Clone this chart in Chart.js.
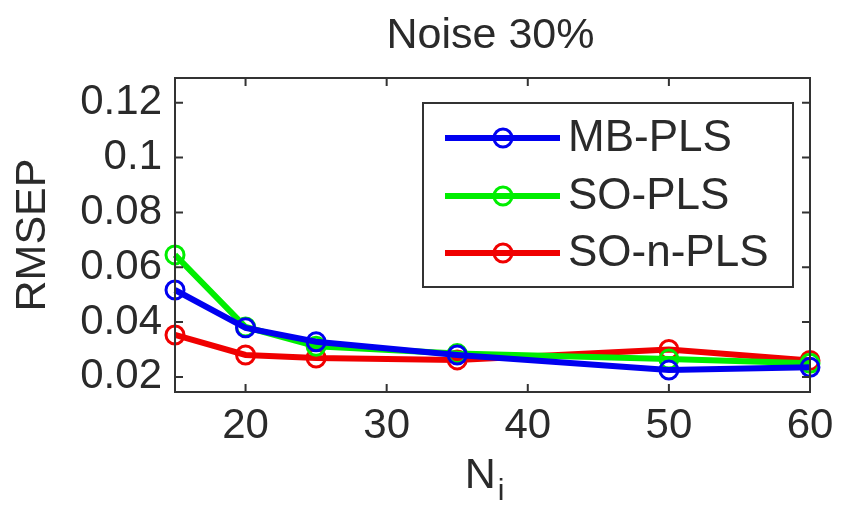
<!DOCTYPE html>
<html>
<head>
<meta charset="utf-8">
<script src="https://cdn.jsdelivr.net/npm/chart.js@4"></script>
<style>
  html, body { margin: 0; padding: 0; background: #ffffff; }
  #wrap { width: 846px; height: 522px; }
</style>
</head>
<body>
<div id="wrap"><canvas id="c" width="846" height="522"></canvas></div>
<script>
// Number of samples per block
const ni = [15, 20, 25, 35, 50, 60];
// RMSEP for each method
const mbPls   = [0.0517, 0.0379, 0.0328, 0.0280, 0.0225, 0.0235];
const soPls   = [0.0645, 0.0382, 0.0312, 0.0285, 0.0265, 0.0250];
const soNPls  = [0.0353, 0.0280, 0.0269, 0.0262, 0.0300, 0.0260];
const seriesNames = ['MB-PLS', 'SO-PLS', 'SO-n-PLS'];
const xTickValues = [20, 30, 40, 50, 60];
const yTickValues = [0.02, 0.04, 0.06, 0.08, 0.10, 0.12];
const yTickLabels = ['0.02', '0.04', '0.06', '0.08', '0.1', '0.12'];
const chartTitle = 'Noise 30%';

const FONT = '"Liberation Sans", Arial, Helvetica, sans-serif';
const TEXT = '#2a2a2a';
const AXIS = '#333333';

function series(values, label, color) {
  return {
    label: label,
    data: ni.map((x, i) => ({ x: x, y: values[i] })),
    borderColor: color,
    backgroundColor: 'rgba(255,255,255,0)',
    borderWidth: 6,
    pointStyle: 'circle',
    pointRadius: 9,
    pointBorderWidth: 3,
    pointBackgroundColor: 'rgba(255,255,255,0)',
    pointBorderColor: color,
    tension: 0,
    clip: false
  };
}

// Title, axes box with inward tick marks, x-axis label with subscript, framed legend
const framePlugin = {
  id: 'frame',
  afterDatasetsDraw(chart) {
    const ctx = chart.ctx;
    const a = chart.chartArea;
    const xs = chart.scales.x, ys = chart.scales.y;
    ctx.save();

    // title over the plot area
    ctx.fillStyle = TEXT;
    ctx.font = '43px ' + FONT;
    ctx.textAlign = 'center';
    ctx.textBaseline = 'middle';
    ctx.fillText(chartTitle, (a.left + a.right) / 2 - 2, 36);

    ctx.strokeStyle = AXIS;
    ctx.lineWidth = 2;
    ctx.strokeRect(a.left, a.top, a.right - a.left, a.bottom - a.top);
    const tl = 8;
    ctx.beginPath();
    xTickValues.forEach(v => {
      const px = xs.getPixelForValue(v);
      ctx.moveTo(px, a.bottom); ctx.lineTo(px, a.bottom - tl);
      ctx.moveTo(px, a.top); ctx.lineTo(px, a.top + tl);
    });
    yTickValues.forEach(v => {
      const py = ys.getPixelForValue(v);
      ctx.moveTo(a.left, py); ctx.lineTo(a.left + tl, py);
      ctx.moveTo(a.right, py); ctx.lineTo(a.right - tl, py);
    });
    ctx.stroke();

    // x-axis label N with subscript i
    ctx.fillStyle = TEXT;
    ctx.textBaseline = 'alphabetic';
    ctx.textAlign = 'left';
    ctx.font = '43px ' + FONT;
    const cx = (a.left + a.right) / 2 - 8;
    const wN = ctx.measureText('N').width;
    ctx.font = '30px ' + FONT;
    const wi = ctx.measureText('i').width;
    const x0 = cx - (wN + wi + 2) / 2;
    ctx.font = '43px ' + FONT;
    ctx.fillText('N', x0, 488);
    ctx.font = '30px ' + FONT;
    ctx.fillText('i', x0 + wN + 2, 500);

    // legend
    const lx = 423, ly = 103, lw = 370, lh = 184;
    ctx.fillStyle = '#ffffff';
    ctx.fillRect(lx, ly, lw, lh);
    ctx.strokeStyle = AXIS;
    ctx.lineWidth = 2;
    ctx.strokeRect(lx, ly, lw, lh);
    const rowY = [138, 196, 253];
    chart.data.datasets.forEach((ds, i) => {
      const y = rowY[i];
      ctx.strokeStyle = ds.borderColor;
      ctx.lineWidth = 6;
      ctx.beginPath();
      ctx.moveTo(445, y); ctx.lineTo(560, y);
      ctx.stroke();
      ctx.lineWidth = 3;
      ctx.beginPath();
      ctx.arc(503, y, 9, 0, Math.PI * 2);
      ctx.stroke();
      ctx.fillStyle = TEXT;
      ctx.font = '44px ' + FONT;
      ctx.textBaseline = 'middle';
      ctx.fillText(ds.label, 568, y + 1);
    });
    ctx.restore();
  }
};

new Chart(document.getElementById('c'), {
  type: 'line',
  data: {
    datasets: [
      series(mbPls, seriesNames[0], '#0000f0'),
      series(soPls, seriesNames[1], '#00ee00'),
      series(soNPls, seriesNames[2], '#f00000')
    ]
  },
  options: {
    responsive: false,
    animation: false,
    devicePixelRatio: 1,
    layout: { padding: { left: 0, right: 36, top: 78, bottom: 0 } },
    plugins: {
      legend: { display: false },
      tooltip: { enabled: false },
      title: { display: false }
    },
    scales: {
      x: {
        type: 'linear',
        min: 15,
        max: 60,
        grid: { display: false, drawTicks: false },
        border: { display: false },
        afterBuildTicks(scale) { scale.ticks = xTickValues.map(v => ({ value: v })); },
        afterFit(scale) { scale.height = 130; },
        ticks: {
          color: TEXT,
          padding: 9,
          maxRotation: 0,
          font: { family: FONT, size: 42 },
          callback: v => String(v)
        }
      },
      y: {
        type: 'linear',
        min: 0.0145,
        max: 0.129,
        grid: { display: false, drawTicks: false },
        border: { display: false },
        afterBuildTicks(scale) { scale.ticks = yTickValues.map(v => ({ value: v })); },
        afterFit(scale) { scale.width = 175; },
        ticks: {
          color: TEXT,
          padding: 13,
          font: { family: FONT, size: 42 },
          callback: (v) => {
            const k = yTickValues.findIndex(t => Math.abs(t - v) < 1e-9);
            return k >= 0 ? yTickLabels[k] : '';
          }
        },
        title: {
          display: true,
          text: 'RMSEP',
          color: TEXT,
          font: { family: FONT, size: 43 },
          padding: { top: 7, bottom: 0 }
        }
      }
    }
  },
  plugins: [framePlugin]
});
</script>
</body>
</html>
